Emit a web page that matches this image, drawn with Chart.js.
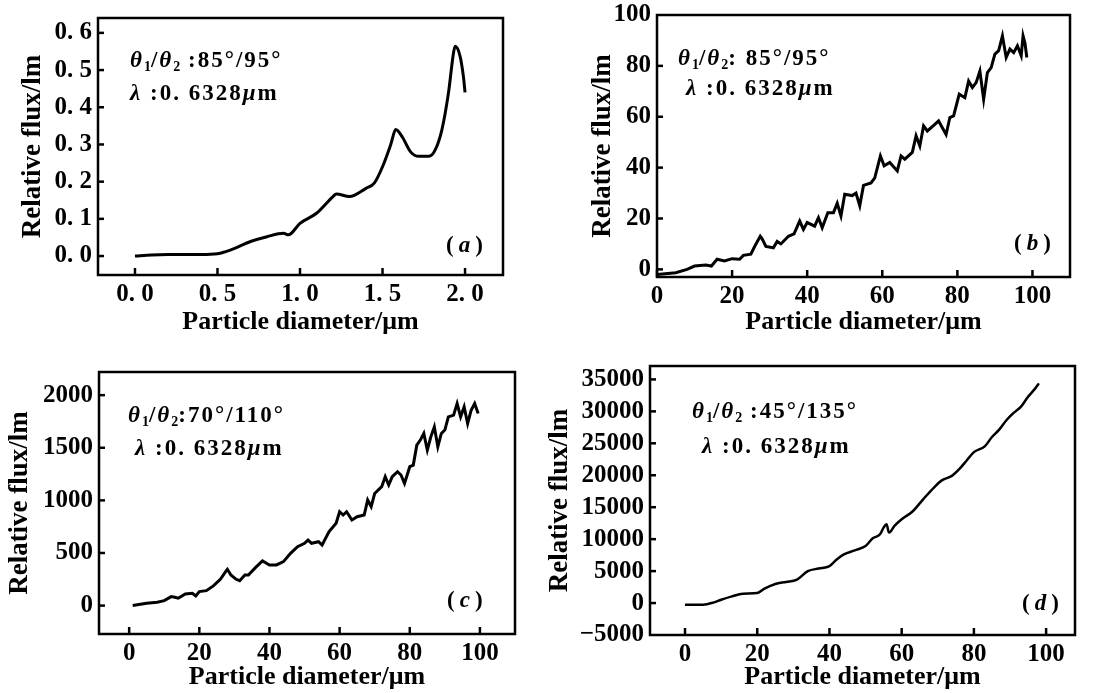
<!DOCTYPE html>
<html>
<head>
<meta charset="utf-8">
<script src="https://cdn.jsdelivr.net/npm/chart.js@4.4.0/dist/chart.umd.min.js"></script>
<style>
  body { margin: 0; background: #fff; }
  #wrap { position: relative; width: 1099px; height: 693px; overflow: hidden; }
  canvas { position: absolute; }
  .note { position: absolute; font-family: "Liberation Serif", serif; font-weight: bold; font-size: 23px; line-height: 23px; letter-spacing: 2px; color: #000; white-space: nowrap; }
  .note sub { font-size: 14px; vertical-align: -4px; line-height: 0; letter-spacing: 0; }
  .tag { position: absolute; font-family: "Liberation Serif", serif; font-weight: bold; font-size: 23px; line-height: 23px; letter-spacing: 5px; }
</style>
</head>
<body>
<div id="wrap">
  <canvas id="pa" width="550" height="340" style="left:0;top:0"></canvas>
  <canvas id="pb" width="549" height="340" style="left:550px;top:0"></canvas>
  <canvas id="pc" width="550" height="353" style="left:0;top:340px"></canvas>
  <canvas id="pd" width="553" height="353" style="left:546px;top:340px"></canvas>

  <div class="note" style="left:130px;top:48px"><i>θ</i><sub>1</sub>/<i>θ</i><sub>2</sub> :85°/95°</div>
  <div class="note" style="left:130px;top:81px"><i>λ</i> :0. 6328<i>μ</i>m</div>
  <div class="tag" style="left:446px;top:233px">(<i>a</i>)</div>

  <div class="note" style="left:678px;top:46px"><i>θ</i><sub>1</sub>/<i>θ</i><sub>2</sub>: 85°/95°</div>
  <div class="note" style="left:686px;top:76px"><i>λ</i> :0. 6328<i>μ</i>m</div>
  <div class="tag" style="left:1014px;top:231px">(<i>b</i>)</div>

  <div class="note" style="left:128px;top:403px"><i>θ</i><sub>1</sub>/<i>θ</i><sub>2</sub>:70°/110°</div>
  <div class="note" style="left:135px;top:436px"><i>λ</i> :0. 6328<i>μ</i>m</div>
  <div class="tag" style="left:447px;top:588px">(<i>c</i>)</div>

  <div class="note" style="left:692px;top:399px"><i>θ</i><sub>1</sub>/<i>θ</i><sub>2</sub> :45°/135°</div>
  <div class="note" style="left:702px;top:434px"><i>λ</i> :0. 6328<i>μ</i>m</div>
  <div class="tag" style="left:1022px;top:591px">(<i>d</i>)</div>
</div>
<script>
// (a) 85/95, small diameters
var aX = [0, 0.1, 0.2, 0.3, 0.4, 0.5, 0.55, 0.6, 0.7, 0.8, 0.9, 0.93, 1.0, 1.1, 1.2, 1.22, 1.3, 1.4, 1.45, 1.5, 1.55, 1.58, 1.62, 1.67, 1.72, 1.78, 1.82, 1.86, 1.9, 1.93, 1.94, 1.97, 1.99, 2.0];
var aY = [0, 0.003, 0.004, 0.004, 0.004, 0.006, 0.012, 0.02, 0.039, 0.052, 0.061, 0.057, 0.088, 0.115, 0.16, 0.167, 0.16, 0.182, 0.196, 0.24, 0.30, 0.34, 0.32, 0.28, 0.268, 0.268, 0.286, 0.34, 0.44, 0.546, 0.564, 0.537, 0.483, 0.44];
var aXTicks = [0, 0.5, 1.0, 1.5, 2.0];
var aYTicks = [0, 0.1, 0.2, 0.3, 0.4, 0.5, 0.6];

// (b) 85/95
var bX = [0,5,8,10,13,14.5,16,18,20,22, 23,25,26,27.5,28,29,31,32,33,35, 36.5,38,39,40,42,43,44,45.5,47,48, 49,50,52,53,54,55,57,58,59.5,60.5, 62,64,65,66,68,69,70,71,72,74, 75,76,77,78,79,80.5,82,83,84,85, 86,87,88,89,90,91,92,93,94,95, 96,97,97.5,98,98.5];
var bY = [-2,-1.3,0,1.3,1.7,1.3,4,3.3,4.2,4, 5.5,6,9,13,12,9,8.5,11,10,13, 14,19,15.7,18.4,17,20.3,16.4,22.3,22.3,26, 21,29.5,29,30,25,33,34,36,44.6,40.7, 42,38.7,44.6,43.3,46,52.5,48.5,56.4,54.4,57, 58.4,55.7,53,59.7,60.3,68.9,67.5,74,71.5,73.4, 78,66.9,77.4,79.3,84.6,86,91.8,83.3,86.6,85.2, 87.9,84,91.8,89,83.3];
var bXTicks = [0, 20, 40, 60, 80, 100];
var bYTicks = [0, 20, 40, 60, 80, 100];

// (c) 70/110
var cX = [1,5,8,10,12,13,14,16,18,19, 20,22,24,26,27.5,28,29,30.5,31.5,33, 34,36,38,40,42,44,46,48,50,51, 52,54,55,57,59,60,61,62,63.5,65, 67,68,69,70,72,73,74,75,76.5,77.5, 78.5,80,81,82,83,84,85,86,87,88, 89,90,91,92.5,93.5,94.5,95.5,96.5,97.5,98.5, 99.5];
var cY = [0,22,32,47,85,79,70,111,117,92, 133,142,187,250,323,345,291,250,237,291, 291,361,424,386,386,418,497,560,592,623, 592,607,576,703,782,892,861,892,813,845, 861,1003,940,1066,1130,1225,1146,1225,1272,1241, 1161,1320,1335,1525,1573,1636,1478,1604,1699,1509, 1636,1668,1794,1810,1920,1794,1889,1731,1857,1920, 1826];
var cXTicks = [0, 20, 40, 60, 80, 100];
var cYTicks = [0, 500, 1000, 1500, 2000];

// (d) 45/135
var dX = [0,5,8,10,13,16,20,22,25,28, 31,34,37,40,42,44,47,50,52,54, 55,55.8,56.5,58,60,63,66,69,71,74, 76,78,80,83,85,87,89,91,93,95, 97,98];
var dY = [-260,-260,100,525,1050,1470,1575,2257,2992,3307, 3675,4987,5407,5774,6824,7612,8241,8924,10131,10761, 11811,12336,11023,12073,13123,14330,16273,18110,19160,19947, 20997,22310,23622,24514,25984,27139,28609,29764,30709,32283, 33596,34383];
var dXTicks = [0, 20, 40, 60, 80, 100];
var dYTicks = [-5000, 0, 5000, 10000, 15000, 20000, 25000, 30000, 35000];

var yTitle = "Relative flux/lm";
var xTitle = "Particle diameter/\u03bcm";

Chart.defaults.color = '#000';
Chart.defaults.font.family = "'Liberation Serif', serif";

// box frame + inward tick marks on both axes
var framePlugin = {
  id: 'frame',
  afterDraw: function(chart) {
    var ctx = chart.ctx, a = chart.chartArea, xs = chart.scales.x, ys = chart.scales.y;
    ctx.save();
    ctx.strokeStyle = '#000';
    ctx.lineWidth = 2.5;
    ctx.strokeRect(a.left, a.top, a.right - a.left, a.bottom - a.top);
    xs.ticks.forEach(function(t) {
      var px = xs.getPixelForValue(t.value);
      ctx.beginPath();
      ctx.moveTo(px, a.bottom);
      ctx.lineTo(px, a.bottom - 7);
      ctx.stroke();
    });
    ys.ticks.forEach(function(t) {
      var py = ys.getPixelForValue(t.value);
      if (py < a.top + 2 || py > a.bottom - 2) return;
      ctx.beginPath();
      ctx.moveTo(a.left, py);
      ctx.lineTo(a.left + 6, py);
      ctx.stroke();
    });
    ctx.restore();
  }
};

function fmtDec(v) { return v.toFixed(1).replace('.', '. '); }
function fmtInt(v) { return (v < 0 ? '\u2212' : '') + Math.abs(Math.round(v)); }
function fixTicks(list) {
  return function(s) { s.ticks = list.map(function(v) { return {value: v}; }); };
}

function panel(id, xs, ys, o) {
  var pts = xs.map(function(x, i) { return {x: x, y: ys[i]}; });
  new Chart(document.getElementById(id), {
    type: 'line',
    data: { datasets: [{ data: pts, borderColor: '#000', borderWidth: o.lw, pointRadius: 0,
      tension: o.smooth ? 0.4 : 0, cubicInterpolationMode: o.smooth ? 'monotone' : 'default' }] },
    options: {
      responsive: false, animation: false, devicePixelRatio: 1,
      layout: { padding: { top: o.T, right: o.R, left: 0, bottom: 0 } },
      plugins: { legend: { display: false }, tooltip: { enabled: false } },
      scales: {
        x: {
          type: 'linear', min: o.xmin, max: o.xmax,
          afterBuildTicks: fixTicks(o.xt),
          afterFit: function(s) { s.height = o.H; },
          border: { display: false },
          grid: { display: false, drawTicks: false },
          ticks: { maxRotation: 0, autoSkip: false, padding: 5,
            font: { size: 25, weight: 'bold' }, callback: o.xfmt },
          title: { display: true, text: xTitle, font: { size: 26, weight: 'bold', lineHeight: 1 }, padding: { top: 0, bottom: o.xtp } }
        },
        y: {
          type: 'linear', min: o.ymin, max: o.ymax,
          afterBuildTicks: fixTicks(o.yt),
          afterFit: function(s) { s.width = o.W; s.paddingTop = 0; s.paddingBottom = 0; },
          border: { display: false },
          grid: { display: false, drawTicks: false },
          ticks: { autoSkip: false, padding: 6,
            font: { size: 25, weight: 'bold', lineHeight: 1 }, callback: o.yfmt },
          title: { display: true, text: yTitle, font: { size: 27, weight: 'bold', lineHeight: 1 }, padding: { top: o.ytp, bottom: 0 } }
        }
      }
    },
    plugins: [framePlugin]
  });
}

panel('pa', aX, aY, { lw: 3, smooth: true, T: 18, R: 47, H: 65, W: 98,
  xmin: -0.224, xmax: 2.23, xt: aXTicks, ymin: -0.051, ymax: 0.64, yt: aYTicks,
  xfmt: fmtDec, yfmt: fmtDec, xtp: 5, ytp: 20 });
panel('pb', bX, bY, { lw: 3, smooth: false, T: 15, R: 29, H: 63, W: 107,
  xmin: 0, xmax: 110, xt: bXTicks, ymin: -3, ymax: 100, yt: bYTicks,
  xfmt: fmtInt, yfmt: fmtInt, xtp: 5, ytp: 40 });
panel('pc', cX, cY, { lw: 3, smooth: false, T: 32, R: 35, H: 59, W: 99,
  xmin: -8.6, xmax: 110, xt: cXTicks, ymin: -270, ymax: 2220, yt: cYTicks,
  xfmt: fmtInt, yfmt: fmtInt, xtp: 3, ytp: 7 });
panel('pd', dX, dY, { lw: 2.5, smooth: true, T: 26, R: 24, H: 58, W: 104,
  xmin: -9.7, xmax: 108, xt: dXTicks, ymin: -5000, ymax: 37100, yt: dYTicks,
  xfmt: fmtInt, yfmt: fmtInt, xtp: 3, ytp: 1 });
</script>
</body>
</html>
